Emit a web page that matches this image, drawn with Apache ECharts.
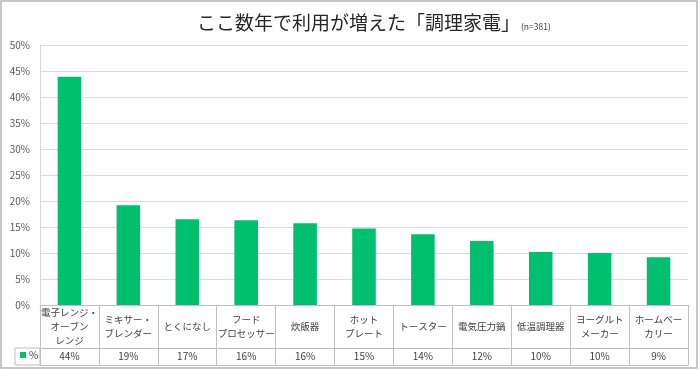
<!DOCTYPE html>
<html>
<head>
<meta charset="utf-8">
<script src="https://cdn.jsdelivr.net/npm/echarts@6/dist/echarts.min.js"></script>
<style>
html,body{margin:0;padding:0;background:#fff;}
#c{width:700px;height:370px;}
</style>
</head>
<body>
<div id="c"></div>
<script>
const titleMain = 'ここ数年で利用が増えた「調理家電」';
const titleNote = '(n=381)';
const seriesName = '%';
const categories = ['電子レンジ・\nオーブン\nレンジ', 'ミキサー・\nブレンダー', 'とくになし', 'フード\nプロセッサー', '炊飯器', 'ホット\nプレート', 'トースター', '電気圧力鍋', '低温調理器', 'ヨーグルト\nメーカー', 'ホームベー\nカリー'];
const values = [43.9, 19.2, 16.5, 16.3, 15.7, 14.7, 13.6, 12.3, 10.2, 10.0, 9.2];
const tableLabels = ['44%', '19%', '17%', '16%', '16%', '15%', '14%', '12%', '10%', '10%', '9%'];

const FONT = '"Noto Sans CJK JP", "Noto Sans", sans-serif';
const GRID = '#d9d9d9';
const TABLE = '#bfbfbf';
const TXT = '#404040';

const chart = echarts.init(document.getElementById('c'));
chart.setOption({
  animation: false,
  textStyle: { fontFamily: FONT },
  title: {
    text: '{a|' + titleMain + '}{b|' + titleNote + '}',
    left: 192, top: 8,
    textStyle: {
      fontWeight: 'normal',
      rich: {
        a: { fontSize: 19, color: '#262626', fontFamily: FONT, fontWeight: 'normal' },
        b: { fontSize: 8.5, color: TXT, fontFamily: FONT, fontWeight: 'normal', verticalAlign: 'bottom', padding: [0, 0, 1, 1] }
      }
    }
  },
  legend: {
    data: [seriesName],
    left: 20, top: 350, padding: 0,
    icon: 'rect', itemWidth: 6, itemHeight: 6, itemGap: 4,
    textStyle: { fontSize: 10, color: TXT, fontFamily: FONT, padding: [0, 0, 0, -2] }
  },
  grid: { left: 40, right: 12, top: 45, bottom: 65, containLabel: false },
  xAxis: [
    {
      type: 'category', data: categories, position: 'bottom',
      axisLine: { show: true, lineStyle: { color: TABLE } },
      axisTick: { show: true, interval: 0, length: 60, lineStyle: { color: TABLE } },
      axisLabel: { interval: 0, margin: 21.5, verticalAlign: 'middle', fontSize: 9.5, lineHeight: 14, color: TXT, fontFamily: FONT }
    },
    {
      type: 'category', data: categories, position: 'bottom', offset: 43,
      axisLine: { show: true, lineStyle: { color: TABLE } },
      axisTick: { show: false },
      axisLabel: { interval: 0, margin: 8.5, verticalAlign: 'middle', fontSize: 10, color: TXT, fontFamily: FONT,
        formatter: function (v, i) { return tableLabels[i]; } }
    },
    {
      type: 'category', data: categories, position: 'bottom', offset: 60,
      axisLine: { show: true, lineStyle: { color: TABLE } },
      axisTick: { show: false },
      axisLabel: { show: false }
    }
  ],
  yAxis: {
    type: 'value', min: 0, max: 50, interval: 5,
    axisLine: { show: true, lineStyle: { color: GRID } },
    axisTick: { show: false },
    splitLine: { lineStyle: { color: GRID } },
    axisLabel: { formatter: '{value}%', fontSize: 10, color: '#595959', margin: 10, fontFamily: FONT }
  },
  series: [{
    name: seriesName, type: 'bar', data: values, xAxisIndex: 0,
    barWidth: '40%', itemStyle: { color: '#00bf6e' }
  }],
  graphic: [
    { type: 'rect', shape: { x: 15, y: 348, width: 25, height: 17 }, style: { fill: 'none', stroke: TABLE, lineWidth: 1 }, z: 10 },
    { type: 'rect', shape: { x: 1, y: 1, width: 696, height: 367 }, style: { fill: 'none', stroke: '#b4b4b4', lineWidth: 1.5 }, z: 10 }
  ]
});
</script>
</body>
</html>
